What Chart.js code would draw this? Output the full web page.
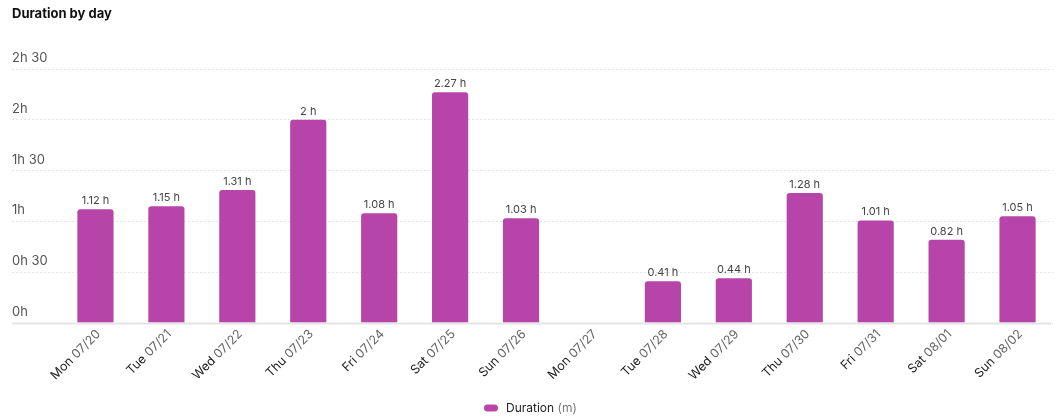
<!DOCTYPE html>
<html>
<head>
<meta charset="utf-8">
<script src="https://cdn.jsdelivr.net/npm/chart.js@4.4.1/dist/chart.umd.min.js"></script>
<style>
  html, body { margin: 0; padding: 0; background: #fff; }
  #wrap { width: 1056px; height: 418px; position: relative; }
</style>
</head>
<body>
<div id="wrap"><canvas id="myChart"></canvas></div>
<script>
// days on the x axis
const dayNames = ['Mon', 'Tue', 'Wed', 'Thu', 'Fri', 'Sat', 'Sun', 'Mon', 'Tue', 'Wed', 'Thu', 'Fri', 'Sat', 'Sun'];
const dayDates = ['07/20', '07/21', '07/22', '07/23', '07/24', '07/25', '07/26', '07/27', '07/28', '07/29', '07/30', '07/31', '08/01', '08/02'];
// duration per day, hours
const durationHours = [1.12, 1.15, 1.31, 2, 1.08, 2.27, 1.03, null, 0.41, 0.44, 1.28, 1.01, 0.82, 1.05];
const seriesName = 'Duration';
const seriesUnit = '(m)';
const chartTitle = 'Duration by day';

const barColor = '#b745a9';
const FONT = 'Inter, "Noto Sans", sans-serif';

function hourLabel(v) {
    let h = Math.floor(v);
    let m = Math.round((v - h) * 60);
    return h + 'h' + (m ? ' ' + m : '');
}

// title, two-tone x labels, value labels, baseline, legend
const extras = {
    id: 'extras',
    afterDatasetsDraw(chart) {
        const ctx = chart.ctx;
        const meta = chart.getDatasetMeta(0);
        ctx.save();
        ctx.font = '11px ' + FONT;
        ctx.fillStyle = '#444';
        ctx.textAlign = 'center';
        ctx.textBaseline = 'bottom';
        meta.data.forEach((bar, i) => {
            if (durationHours[i] == null) return;
            ctx.fillText(durationHours[i] + ' h', bar.x, bar.y - 3);
        });
        ctx.restore();
    },
    afterDraw(chart) {
        const ctx = chart.ctx;
        const x = chart.scales.x;
        const y = chart.scales.y;
        ctx.save();

        // title
        ctx.font = 'bold 13px ' + FONT;
        ctx.fillStyle = '#111';
        ctx.textAlign = 'left';
        ctx.textBaseline = 'middle';
        ctx.fillText(chartTitle, 12, 14);

        // baseline
        let y0 = Math.round(y.getPixelForValue(0)) + 0.5;
        ctx.strokeStyle = '#e4e4e4';
        ctx.lineWidth = 2;
        ctx.beginPath();
        ctx.moveTo(12, y0);
        ctx.lineTo(1051, y0);
        ctx.stroke();

        // x labels, day dark and date grey
        ctx.font = '12.5px ' + FONT;
        ctx.textAlign = 'right';
        ctx.textBaseline = 'middle';
        x.ticks.forEach((t, i) => {
            let px = x.getPixelForTick(i);
            ctx.save();
            ctx.translate(px + 3, x.top + 9);
            ctx.rotate(-Math.PI / 4);
            let dateW = ctx.measureText(dayDates[i]).width;
            let spaceW = ctx.measureText(' ').width;
            ctx.fillStyle = '#666';
            ctx.fillText(dayDates[i], 0, 0);
            ctx.fillStyle = '#222';
            ctx.fillText(dayNames[i], -dateW - spaceW, 0);
            ctx.restore();
        });

        // legend
        let lx = 484, ly = 408;
        ctx.fillStyle = barColor;
        ctx.beginPath();
        ctx.roundRect(lx, ly - 3.5, 14, 7, 3.5);
        ctx.fill();
        ctx.textAlign = 'left';
        ctx.textBaseline = 'middle';
        ctx.font = '12px ' + FONT;
        ctx.fillStyle = '#222';
        ctx.fillText(seriesName, lx + 22, ly);
        let nameW = ctx.measureText(seriesName + ' ').width;
        ctx.fillStyle = '#777';
        ctx.fillText(seriesUnit, lx + 22 + nameW, ly);

        ctx.restore();
    }
};

const ctx = document.getElementById('myChart').getContext('2d');
const myChart = new Chart(ctx, {
    type: 'bar',
    data: {
        labels: dayNames.map((d, i) => d + ' ' + dayDates[i]),
        datasets: [{
            label: seriesName,
            data: durationHours,
            backgroundColor: barColor,
            borderRadius: { topLeft: 3, topRight: 3 },
            borderSkipped: 'bottom',
            categoryPercentage: 1,
            barPercentage: 0.51
        }]
    },
    options: {
        responsive: true,
        maintainAspectRatio: false,
        animation: false,
        layout: { padding: { top: 69, left: 12, right: 3, bottom: 29 } },
        plugins: {
            legend: { display: false },
            title: { display: false },
            tooltip: { enabled: false }
        },
        scales: {
            x: {
                grid: { display: false },
                border: { display: false },
                ticks: {
                    color: 'rgba(0,0,0,0)',
                    font: { family: FONT, size: 12 },
                    autoSkip: false,
                    minRotation: 45,
                    maxRotation: 45
                },
                afterFit(scale) { scale.height = 66; }
            },
            y: {
                min: 0,
                max: 2.5,
                border: { display: false, dash: [2, 2] },
                grid: {
                    color: '#e4e4e4',
                    tickColor: '#e4e4e4',
                    tickLength: 48,
                    tickBorderDash: [2, 2],
                    lineWidth: 1
                },
                ticks: {
                    stepSize: 0.5,
                    crossAlign: 'far',
                    labelOffset: -11,
                    padding: 0,
                    color: '#555',
                    font: { family: FONT, size: 13 },
                    callback: v => hourLabel(v)
                },
                afterFit(scale) { scale.width = 48; }
            }
        }
    },
    plugins: [extras]
});
</script>
</body>
</html>
